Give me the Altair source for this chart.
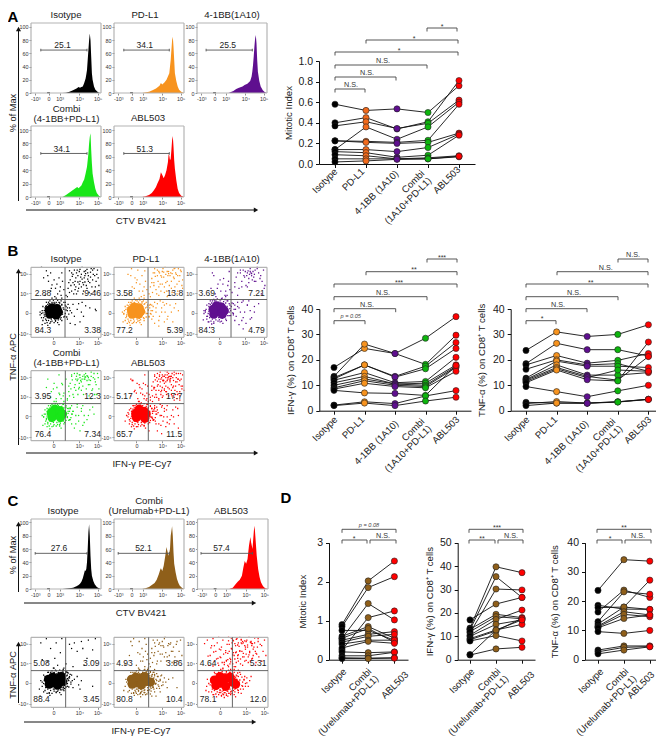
import altair as alt
import pandas as pd

W, H, M = 648, 729, 8
FONT = "Liberation Sans"
ONE = pd.DataFrame({"a": [1]})

# ---------- histogram readings (x % of gate box, % of max) ----------
H_ISO_A = [(45,0),(50,.5),(55,2),(60,4),(65,7),(68,9),(70,8),(72,9),(74,10),(76,15),(78,22),(79,28),(80,35),(81,50),(82,65),(83,80),(84,90),(85,80),(86,55),(87,30),(88,20),(90,10),(92,5),(95,2),(97,.5),(100,0)]
H_PDL_A = [(40,0),(50,2),(55,4),(60,7),(65,11),(67,15),(69,13),(72,16),(75,20),(77,25),(79,30),(80,40),(81,50),(82,65),(83,80),(84,85),(85,70),(86,50),(87,30),(89,18),(91,10),(93,5),(96,2),(100,0)]
H_BB_A = [(45,0),(52,3),(56,6),(60,8),(65,10),(68,12),(72,14),(76,18),(78,25),(79,32),(80,42),(81,55),(82,70),(83,82),(84,88),(85,75),(86,50),(87,32),(89,18),(91,10),(94,4),(97,1),(100,0)]
H_COM_A = [(45,0),(50,3),(54,6),(58,9),(62,12),(66,15),(68,13),(72,17),(74,22),(76,26),(78,35),(80,45),(81,55),(82,65),(83,80),(84,90),(85,95),(86,70),(87,50),(88,35),(90,22),(92,12),(94,6),(97,2),(100,0)]
H_ABL_A = [(40,0),(45,1),(50,3),(54,6),(57,10),(60,15),(62,20),(65,27),(67,37),(69,33),(71,28),(73,33),(75,40),(77,52),(78,64),(79,62),(80,55),(81,57),(82,70),(83,85),(84,91),(85,75),(86,55),(87,42),(89,25),(91,12),(93,6),(96,2),(100,0)]
H_ISO_C = [(45,0),(55,1),(60,2),(65,4),(68,6),(70,8),(72,11),(74,16),(76,24),(77,28),(78,27),(79,30),(80,40),(81,60),(82,85),(83,97),(84,80),(85,50),(86,30),(87,20),(89,12),(91,7),(94,3),(97,1),(100,0)]
H_COM_C = [(40,0),(45,1),(50,3),(54,6),(58,9),(61,14),(64,22),(66,29),(67,31),(69,27),(71,35),(73,48),(75,63),(76,58),(78,50),(80,60),(81,80),(83,94),(84,80),(85,55),(86,38),(88,25),(90,15),(92,9),(94,5),(97,2),(100,0)]
H_ABL_C = [(45,0),(50,2),(54,7),(57,11),(60,14),(63,20),(65,32),(67,42),(69,38),(71,45),(73,65),(75,78),(76,70),(78,60),(80,88),(81,95),(82,80),(84,50),(86,30),(88,18),(90,10),(93,4),(96,1),(100,0)]

# ---------- dot-plot readings ----------
CORE_B_ISO = [(32,37),(27,33),(37,41),(30,42),(36,32),(26,39),(39,36)]
DOTS_B_ISO = [(20,30),(19,38),(22,24),(28,22),(35,24),(42,26),(45,33),(47,40),(44,46),(40,50),(33,50),(26,48),(21,44),(17,35),(15,28),(48,30),(52,38),(50,44),(55,42),(58,35),(60,47),(52,26),(62,30),(49,50),(16,18),(13,32),(66,40),(72,36),(70,22),(75,30),(78,45),(84,42),(92,40),(93,38),(56,20),(63,18),(68,48),(73,50),(22,95),(28,92),(18,85),(25,80),(30,75),(35,70),(38,62),(40,85),(44,92),(34,58),(42,72),(20,60),(28,66),(15,100),(50,60),(53,70),(56,82),(58,66),(60,90),(62,75),(64,85),(66,96),(68,70),(70,80),(72,90),(74,62),(75,75),(76,85),(78,95),(80,70),(82,88),(84,78),(85,93),(86,62),(88,82),(90,98),(92,72),(94,90),(96,85),(65,62),(55,95),(60,78),(70,97),(80,97),(88,96),(73,83),(67,79),(63,68),(77,79),(81,83)]
CORE_B_PDL = [(31,37),(26,33),(36,42),(29,43),(35,33),(25,39),(38,37)]
DOTS_B_PDL = [(18,30),(17,40),(21,23),(28,21),(36,24),(43,27),(46,34),(47,43),(44,48),(40,51),(33,52),(25,49),(19,46),(14,33),(50,30),(53,38),(51,46),(56,44),(60,36),(62,48),(54,26),(65,30),(13,22),(68,42),(73,36),(72,22),(77,30),(80,46),(86,42),(92,38),(58,20),(64,16),(70,50),(75,48),(84,22),(20,90),(25,98),(30,85),(26,72),(32,78),(36,66),(39,58),(40,88),(44,95),(43,72),(22,62),(34,96),(50,62),(52,72),(54,84),(56,92),(58,98),(60,68),(62,88),(64,94),(66,76),(68,86),(70,98),(72,64),(74,90),(76,80),(78,94),(80,88),(82,70),(84,96),(86,84),(88,92),(90,76),(92,98),(94,88),(96,94),(98,82),(98,70),(64,60),(76,58),(90,62),(57,78),(71,93),(83,91),(87,99)]
CORE_B_BB = [(30,38),(24,33),(35,43),(28,45),(36,33),(23,40),(39,38)]
DOTS_B_BB = [(14,30),(12,38),(16,22),(24,20),(33,22),(42,24),(46,31),(48,38),(47,46),(43,52),(35,54),(25,52),(17,48),(10,34),(52,32),(55,40),(52,48),(58,44),(62,36),(64,50),(54,24),(66,28),(9,25),(18,14),(72,46),(76,38),(70,20),(78,28),(82,44),(60,18),(66,12),(74,52),(20,70),(26,62),(30,76),(34,66),(38,84),(40,60),(44,74),(22,92),(46,94),(50,64),(54,72),(56,86),(60,70),(62,92),(64,80),(66,96),(68,86),(70,74),(72,92),(74,84),(76,98),(78,88),(80,94),(82,90),(84,80),(86,100),(75,90),(73,95),(79,82),(83,96),(88,92),(71,88),(77,92),(81,86),(90,84),(96,70),(92,62),(58,60)]
CORE_B_COM = [(36,38),(30,33),(41,43),(34,45),(42,33),(29,40),(45,38)]
DOTS_B_COM = [(22,30),(21,38),(24,24),(32,21),(41,23),(48,26),(52,33),(53,42),(50,48),(46,52),(38,52),(28,50),(23,46),(18,34),(55,30),(58,38),(56,46),(60,42),(64,36),(66,48),(58,24),(68,28),(17,22),(72,42),(76,36),(74,22),(80,30),(84,44),(90,38),(62,18),(70,14),(74,50),(28,62),(32,74),(36,60),(40,68),(44,82),(22,76),(40,94),(46,64),(52,60),(54,70),(56,82),(58,94),(60,66),(62,76),(64,88),(66,96),(68,74),(70,90),(72,84),(74,92),(76,88),(78,96),(80,86),(82,90),(84,80),(86,92),(88,74),(90,96),(92,84),(94,66),(96,90),(66,86),(70,94),(73,88),(77,91),(80,93),(83,87),(69,82),(86,60),(50,88)]
CORE_B_ABL = [(38,37),(32,33),(43,42),(36,45),(44,32),(31,39),(46,38)]
DOTS_B_ABL = [(22,30),(20,40),(26,23),(34,20),(43,22),(51,26),(54,33),(55,42),(52,49),(47,52),(38,53),(28,50),(24,46),(18,36),(57,30),(60,38),(58,46),(62,44),(66,36),(68,48),(60,24),(70,28),(16,28),(72,42),(76,34),(74,20),(80,30),(84,44),(92,36),(62,14),(68,10),(76,50),(86,24),(92,18),(50,14),(24,64),(30,72),(34,60),(38,68),(42,82),(26,86),(44,94),(47,60),(52,62),(54,72),(56,84),(58,94),(60,66),(62,78),(64,88),(66,98),(68,72),(70,92),(72,82),(74,90),(76,86),(78,96),(80,88),(82,92),(84,76),(86,94),(88,66),(90,84),(92,96),(94,70),(96,88),(98,78),(66,84),(70,86),(73,94),(77,90),(80,84),(83,96),(69,62),(86,58),(90,60),(64,58),(58,76),(74,70),(82,66),(88,78),(94,58)]
CORE_C_ISO = [(32,35),(26,33),(38,41),(31,43),(38,32),(43,44),(25,40),(45,37)]
DOTS_C_ISO = [(16,30),(14,38),(18,22),(26,20),(36,22),(46,26),(52,34),(54,42),(52,50),(46,54),(36,52),(24,50),(18,46),(12,26),(57,36),(58,46),(62,40),(66,44),(60,28),(68,32),(13,16),(72,38),(14,92),(22,98),(28,84),(34,70),(36,92),(38,60),(42,78),(44,98),(24,66),(32,56),(55,90),(58,84),(62,92),(66,80),(72,94),(74,84),(82,96),(80,70),(88,82),(50,62),(60,58),(76,60),(92,98),(16,68),(88,30),(70,26)]
CORE_C_COM = [(32,35),(26,33),(38,41),(31,43),(39,32),(44,44),(25,40),(47,37),(52,36)]
DOTS_C_COM = [(16,30),(17,40),(20,22),(28,20),(38,20),(48,24),(56,28),(60,34),(62,44),(56,50),(48,54),(36,54),(24,50),(14,24),(64,30),(66,38),(68,46),(70,32),(72,42),(74,36),(76,28),(78,40),(66,22),(60,16),(16,62),(22,74),(26,88),(28,98),(32,60),(34,78),(36,94),(38,66),(40,84),(42,72),(44,58),(46,90),(24,94),(50,62),(52,70),(54,84),(56,96),(58,78),(62,66),(64,90),(66,76),(70,88),(72,98),(76,72),(80,90),(84,80),(86,64),(90,94),(44,98),(48,76),(84,42),(90,28)]
CORE_C_ABL = [(33,35),(26,31),(40,41),(32,44),(40,30),(46,43),(24,39),(50,36),(54,33)]
DOTS_C_ABL = [(13,30),(14,40),(16,22),(22,18),(34,16),(46,20),(58,24),(64,30),(66,40),(60,50),(52,54),(36,55),(24,50),(12,24),(68,34),(70,42),(72,30),(74,38),(76,44),(62,20),(16,60),(18,74),(20,88),(22,98),(24,66),(26,80),(28,92),(30,60),(32,72),(34,86),(36,96),(38,64),(40,78),(42,90),(44,58),(46,70),(48,84),(50,96),(50,62),(52,74),(54,88),(56,98),(58,66),(60,80),(62,92),(64,60),(66,72),(68,86),(70,96),(72,64),(74,80),(76,92),(78,70),(80,86),(82,60),(84,76),(86,94),(14,96),(30,100),(44,100),(60,100),(46,62),(49,92),(51,78),(54,58),(57,70),(43,68),(35,64)]
# the loose halo round each dense core, and the loose upper and right quadrants
HALO = [(22,33),(23,41),(24,28),(26,45),(29,26),(31,47),(34,26),(37,27),(39,29),(41,31),(42,35),(43,39),(42,43),(40,46),(37,47),(34,48),(21,37),(20,35),(24,47),(22,45),(25,24),(30,23),(35,23),(39,25),(43,28),(45,36),(46,42),(44,47),(41,49),(36,50),(30,50),(25,50),(20,42),(19,32),(18,28),(21,26),(23,21),(27,20),(33,21),(38,21),(44,24),(47,29),(49,34),(50,39),(49,46),(47,50),(43,52),(38,53),(32,53),(27,52),(22,50),(17,44),(16,38),(15,34),(17,24),(20,20),(13,36),(52,42),(53,47),(54,33),(56,38),(51,29),(24,17),(40,18),(30,56),(44,56)]
LOOSE = [(52,58),(55,64),(57,74),(59,87),(61,62),(63,80),(65,92),(67,66),(69,76),(71,86),(73,100),(75,66),(77,88),(79,74),(81,92),(83,64),(85,86),(87,72),(89,90),(91,66),(93,80),(95,96),(97,74),(69,94),(74,78),(78,91),(82,80),(67,88),(72,72),(58,92),(54,78),(62,96),(47,68),(45,80),(41,66),(37,76),(33,82),(29,70),(24,88),(43,60),(36,56),(86,98),(91,88),(76,94),(64,72),(56,30),(60,42),(64,24),(68,36),(72,46),(76,26),(82,36),(88,48),(54,46),(58,50),(66,52),(52,34)]

# ---------- paired-line readings (one row per donor) ----------
MI_A = [[.58,.52,.535,.50,.76],[.40,.45,.34,.41,.81],[.37,.41,.345,.395,.62],[.14,.36,.24,.36,.60],[.225,.22,.21,.23,.58],[.225,.21,.20,.21,.30],[.14,.14,.12,.16,.29],[.12,.11,.065,.085,.28],[.09,.08,.05,.06,.08],[.05,.05,.05,.05,.07],[.02,.03,.045,.05,.075]]
IFN_B = [[17,24.5,22.5,28.5,37],[13.5,26.2,22.5,18.2,29.7],[13,18,13.5,17.5,26.8],[12.5,18,13.2,16.5,24.5],[12,15,11,11.5,21],[11,13.5,10.5,10.8,18],[10,12.5,10.5,10,17.5],[9,11.8,10,9.5,17],[8.5,10.8,9.5,9,15.5],[8,7,6.8,6,17.8],[2.2,3.5,2.8,5.8,7.9],[2,3,2,3.8,5.3]]
TNF_B = [[23.7,31,29.2,30,33.8],[18.5,26.5,24,24,21.5],[18,21.7,18.7,19.8,22.5],[16.3,20,18,18.5,15.5],[12.8,19.5,17.5,17.5,17],[12.3,18,14,14,15],[12,17,13.5,12,21.3],[11.5,16.5,13,16,15.5],[11,16,12.2,11.7,27],[9.5,7.5,5.5,7.8,10],[3.3,3,3,3.5,4.5],[2.8,3.6,3,3.5,4.5],[2,3,2.9,3.4,4.4]]
MI_D = [[.9,2.02,2.53],[.85,1.85,2.13],[.55,1.44,1.02],[.25,1.08,1.25],[.75,.75,.5],[.6,.85,.55],[.55,.8,.45],[.5,.65,.72],[.45,.6,.65],[.4,.5,.5],[.3,.47,.42],[.2,.18,.2],[.1,.1,.19],[.05,.04,.05],[.03,.03,.04]]
IFN_D = [[13.5,39.7,37.2],[12.8,35.5,26.6],[11.5,30.2,29.8],[17,23.8,26.6],[13,19.4,18],[12,18.4,17.5],[10.5,17.2,21.2],[10,15.1,17],[9,12.7,15.1],[8.5,12.3,17.7],[8,10.3,8],[2,4.6,5.3],[2.2,12.7,17]]
TNF_D = [[23.7,34.2,33.7],[18.6,17.3,17.2],[17.8,18,17.2],[16.3,23.8,21.3],[13,23.2,22.4],[12.2,18,27.2],[11.5,16.4,15.3],[11.2,15.5,14.7],[10.9,14.1,15.3],[9.6,9,10],[3.3,4.7,4.7],[2.7,4.2,4.5],[2,3.3,4.4]]

BLACK, ORANGE, ORANGE2, PURPLE, GREEN, GREEN2, RED, BROWN = "#000000", "#f26a1b", "#f7931e", "#5f0f8f", "#0db50d", "#19e619", "#ff0000", "#8f5f1a"
layers = []


def shifted(pts, dx, dy=0):
    return [(a + dx, b + dy) for a, b in pts]


def txt(x, y, s, size=9.6, angle=0, bold=False, italic=False, color="#1a1a1a", align="center"):
    kw = {}
    if bold:
        kw["fontWeight"] = "bold"
    if italic:
        kw["fontStyle"] = "italic"
    layers.append(alt.Chart(ONE).mark_text(font=FONT, fontSize=size, angle=angle, align=align, baseline="middle", color=color, **kw)
                  .encode(x=alt.value(x - M), y=alt.value(y - M), text=alt.value(s)))


def rule(x1, y1, x2, y2, color="#333333", w=0.9):
    layers.append(alt.Chart(ONE).mark_rule(color=color, strokeWidth=w)
                  .encode(x=alt.value(x1 - M), x2=alt.value(x2 - M), y=alt.value(y1 - M), y2=alt.value(y2 - M)))


def arrow(x1, y1, x2, y2):
    rule(x1, y1, x2, y2, "#111111", 1)
    shape = "triangle-up" if x1 == x2 else "triangle-right"
    layers.append(alt.Chart(ONE).mark_point(shape=shape, filled=True, color="#111111", size=26, opacity=1)
                  .encode(x=alt.value(x2 - M), y=alt.value(y2 - M)))


def bracket(x1, x2, y, label, tx, ty=None, italic=False, leg=3.5):
    rule(x1, y, x2, y, "#444444", 0.9)
    rule(x1, y, x1, y + leg, "#444444", 0.9)
    rule(x2, y, x2, y + leg, "#444444", 0.9)
    if label.startswith("*"):
        txt(tx, y - 1.5 if ty is None else ty, label, size=7, color="#333333")
    elif italic:
        txt(tx, y - 4.5 if ty is None else ty, label, size=5.6, italic=True, color="#444444")
    else:
        txt(tx, y - 4 if ty is None else ty, label, size=7.2, color="#333333")


def facs_axes(box, ydom, xv, xl, yv, yl):
    x0, x1, y0, y1 = box
    expr_x = "+".join(f"(datum.value=={v}?'{l}':'')" for v, l in zip(xv, xl))
    expr_y = "+".join(f"(datum.value=={v}?'{l}':'')" for v, l in zip(yv, yl))
    ax = dict(labelFont=FONT, labelFontSize=5.4, labelColor="#333333", tickSize=2, tickColor="#444444", tickWidth=0.6,
              domain=False, grid=False, title=None, labelPadding=1, labelFlush=False, labelOverlap=False)
    sx = alt.Scale(domain=[0, 100], range=[x0 - M, x1 - M], nice=False, zero=False)
    sy = alt.Scale(domain=ydom, range=[y1 - M, y0 - M], nice=False, zero=False)
    axx = alt.Axis(orient="bottom", offset=-(H - (y1 - M)), values=xv, labelExpr=expr_x, **ax)
    axy = alt.Axis(orient="left", offset=-(x0 - M), values=yv, labelExpr=expr_y, **ax)
    return sx, sy, axx, axy


def segs_and_text(box, sx, sy, ydom, segs, texts):
    frame = [(0, 100, ydom[0], ydom[0]), (0, 100, ydom[1], ydom[1]), (0, 0, ydom[0], ydom[1]), (100, 100, ydom[0], ydom[1])]
    rows = [dict(x=a, x2=b, y=c, y2=d, c="#b4b4b4", w=1.2) for a, b, c, d in frame]
    rows += [dict(x=a, x2=b, y=c, y2=d, c="#555555", w=0.9) for a, b, c, d in segs]
    layers.append(alt.Chart(pd.DataFrame(rows)).mark_rule().encode(
        x=alt.X("x:Q", scale=sx, axis=None), x2="x2:Q", y=alt.Y("y:Q", scale=sy, axis=None), y2="y2:Q",
        color=alt.Color("c:N", scale=None), strokeWidth=alt.StrokeWidth("w:Q", scale=None)))
    tdf = pd.DataFrame(texts, columns=["x", "y", "t"])
    layers.append(alt.Chart(tdf).mark_text(font=FONT, fontSize=8.5, color="#222222", align="center", baseline="middle").encode(
        x=alt.X("x:Q", scale=sx, axis=None), y=alt.Y("y:Q", scale=sy, axis=None), text="t:N"))


def hist(box, pts, color, gate, val, ydom=(0, 106)):
    xv, xl = [6, 25, 41, 69, 95], ["-10³", "0", "10³", "10⁴", "10⁵"]
    yv, yl = [0, 20, 40, 60, 80, 100], ["0", "20", "40", "60", "80", "100"]
    sx, sy, axx, axy = facs_axes(box, list(ydom), xv, xl, yv, yl)
    df = pd.DataFrame(pts, columns=["x", "y"])
    layers.append(alt.Chart(df).mark_area(color=color, opacity=1).encode(
        x=alt.X("x:Q", scale=sx, axis=axx), y=alt.Y("y:Q", scale=sy, axis=axy)))
    a, b, gy, tx, ty = gate
    segs = [(a, b, gy, gy), (a, a, gy - 2, gy + 2), (b, b, gy - 2, gy + 2), (23, 27, 0.4, 0.4)]
    segs_and_text(box, sx, sy, list(ydom), segs, [(tx, ty, val)])


def dots(box, core, sparse, color, qx, qy, labels, lab_pos):
    xv, xl = [32, 69, 95], ["0", "10⁴", "10⁵"]
    yv, yl = [5, 35, 63, 91], ["-10⁴", "0", "10⁴", "10⁵"]
    sx, sy, axx, axy = facs_axes(box, [0, 100], xv, xl, yv, yl)
    cdf = pd.DataFrame(core, columns=["x", "y"])
    ddf = pd.DataFrame([p for p in sparse if 0 <= p[0] <= 100 and 0 <= p[1] <= 100], columns=["x", "y"])
    layers.append(alt.Chart(ddf).mark_square(color=color, size=1.6, opacity=1).encode(
        x=alt.X("x:Q", scale=sx, axis=axx), y=alt.Y("y:Q", scale=sy, axis=axy)))
    layers.append(alt.Chart(cdf).mark_circle(color=color, size=85, opacity=1).encode(
        x=alt.X("x:Q", scale=sx, axis=None), y=alt.Y("y:Q", scale=sy, axis=None)))
    segs = [(0, 100, qy, qy), (qx, qx, 0, 100)]
    tl, tr, bl, by, ty = lab_pos
    texts = [(tl, ty, labels[0]), (tr, ty, labels[1]), (tl, by, labels[2]), (tr, by, labels[3])]
    segs_and_text(box, sx, sy, [0, 100], segs, texts)


def paired(series, colors, xpos, spacing, xr, yr, ydom, yticks, title, tpad, cats, fmt=None, lpad=3):
    rows = []
    for sid, row in enumerate(series):
        for i, v in enumerate(row):
            rows.append(dict(sid=sid, cat=i, val=v, col=colors[i]))
    df = pd.DataFrame(rows)
    a, b = xr
    dom = [(a - xpos) / spacing, (b - xpos) / spacing]
    sx = alt.Scale(domain=dom, range=[a - M, b - M], nice=False, zero=False)
    sy = alt.Scale(domain=ydom, range=[yr[0] - M, yr[1] - M], nice=False, zero=False)
    axx = alt.Axis(orient="bottom", offset=-(H - (yr[0] - M)), values=list(range(len(colors))), labels=False,
                   tickSize=3.5, tickColor="#111111", domainColor="#111111", grid=False, title=None)
    axy_kw = dict(labelFont=FONT, labelFontSize=10.5, labelColor="#1a1a1a", tickSize=3.5, tickColor="#111111", domainColor="#111111",
                  grid=False, title=title, titleFont=FONT, titleFontSize=9.6, titleFontWeight="normal", titleColor="#1a1a1a",
                  titlePadding=tpad, labelPadding=lpad, labelFlush=False, labelOverlap=False, values=yticks)
    if fmt:
        axy_kw["format"] = fmt
    axy = alt.Axis(orient="left", offset=-(a - M), **axy_kw)
    layers.append(alt.Chart(df).mark_line(color="#111111", strokeWidth=0.9).encode(
        x=alt.X("cat:Q", scale=sx, axis=axx), y=alt.Y("val:Q", scale=sy, axis=axy), detail="sid:N"))
    layers.append(alt.Chart(df).mark_circle(stroke="#222222", strokeWidth=0.6, size=38, opacity=1).encode(
        x=alt.X("cat:Q", scale=sx, axis=None), y=alt.Y("val:Q", scale=sy, axis=None), fill=alt.Fill("col:N", scale=None)))
    for xe, ye, t in cats:
        txt(xe, ye, t, size=9.6, angle=315, align="right")


ARX, LABX = 18.5, 13

# ===== Panel A =====
txt(13, 17, "A", size=15, bold=True, color="#000000")
for (x, t) in zip((66, 145, 232), ("Isotype", "PD-L1", "4-1BB(1A10)")):
    txt(x, 15, t)
txt(66.5, 109, "Combi"); txt(66.5, 118.7, "(4-1BB+PD-L1)"); txt(148, 118, "ABL503")
hist((31, 101, 23, 93), H_ISO_A, BLACK, (14, 80, 65, 45, 72), "25.1")
hist((114, 184, 23, 93), H_PDL_A, ORANGE2, (14, 79, 65, 44, 72), "34.1")
hist((197, 267, 23, 93), H_BB_A, PURPLE, (13, 79, 65, 44, 72), "25.5")
hist((31, 101, 126, 197), H_COM_A, GREEN2, (14, 80, 65, 44, 72), "34.1")
hist((114, 184, 126, 197), H_ABL_A, RED, (14, 79, 65, 44, 72), "51.3")
arrow(ARX, 201, ARX, 29); arrow(26, 210, 256, 210)
txt(LABX, 113, "% of Max", size=9.2, angle=270)
txt(141, 221, "CTV BV421")

paired(MI_A, [BLACK, ORANGE, PURPLE, GREEN, RED], 335, 31, (319, 475), (164, 61), [0, 1], [0, .2, .4, .6, .8, 1], "Mitotic Index", 4,
       [(336, 170, "Isotype"), (363, 170, "PD-L1"), (397, 172, "4-1BB (1A10)"), (423, 172, "Combi"), (430, 179, "(1A10+PD-L1)"), (459, 168, "ABL503")], ".1f")
bracket(335, 365, 89, "N.S.", 351)
bracket(335, 396, 77, "N.S.", 367)
bracket(335, 427, 65, "N.S.", 383)
bracket(335, 458, 52, "*", 399)
bracket(366, 458, 40, "*", 414)
bracket(427, 457, 28, "*", 442)

# ===== Panel B =====
txt(13, 251, "B", size=15, bold=True, color="#000000")
for (x, t) in zip((66, 146, 232), ("Isotype", "PD-L1", "4-1BB(1A10)")):
    txt(x, 259.3, t)
txt(66.5, 352.7, "Combi"); txt(66.5, 362.7, "(4-1BB+PD-L1)"); txt(148, 362.7, "ABL503")
dots((31, 101, 267.3, 337.3), CORE_B_ISO, DOTS_B_ISO + HALO + LOOSE[:45], BLACK, 48.6, 54, ("2.88", "9.46", "84.3", "3.38"), (17, 88, 10, 10, 64))
dots((114, 184, 267.3, 337.3), CORE_B_PDL, DOTS_B_PDL + shifted(HALO, -1) + LOOSE, ORANGE2, 48.6, 54, ("3.58", "13.8", "77.2", "5.39"), (15, 87, 10, 10, 64))
dots((197, 267, 267.3, 337.3), CORE_B_BB, DOTS_B_BB + shifted(HALO, -3, 2) + LOOSE[20:], PURPLE, 48.6, 54, ("3.69", "7.21", "84.3", "4.79"), (14, 85, 10, 10, 64))
dots((31, 101, 370.7, 440.7), CORE_B_COM, DOTS_B_COM + shifted(HALO, 3) + LOOSE, GREEN2, 49, 53, ("3.95", "12.3", "76.4", "7.34"), (17, 88, 10, 10, 64))
dots((114, 184, 370.7, 440.7), CORE_B_ABL, DOTS_B_ABL + shifted(HALO, 5) + LOOSE + shifted(LOOSE, 3, -2), RED, 49, 53, ("5.17", "17.7", "65.7", "11.5"), (15, 86, 10, 10, 64))
arrow(ARX, 445, ARX, 271); arrow(26, 453, 256, 453)
txt(LABX, 357, "TNF-α APC", size=9.2, angle=270)
txt(142, 464, "IFN-γ PE-Cy7")

paired(IFN_B, [BLACK, ORANGE2, PURPLE, GREEN, RED], 334, 30.5, (319.3, 471), (410.7, 309), [0, 40], [0, 10, 20, 30, 40], "IFN-γ (%) on CD8⁺ T cells", 6,
       [(336, 418, "Isotype"), (363, 418, "PD-L1"), (397, 422, "4-1BB (1A10)"), (423, 420, "Combi"), (430, 427, "(1A10+PD-L1)"), (458, 418, "ABL503")])
bracket(334, 365, 320.7, "p = 0.05", 350.7, italic=True)
bracket(334, 395.7, 308.7, "N.S.", 367)
bracket(334, 427, 296.7, "N.S.", 383)
bracket(334, 457, 284, "***", 399)
bracket(366, 457, 271.7, "**", 414)
bracket(427, 457, 259, "***", 442)

paired(TNF_B, [BLACK, ORANGE2, PURPLE, GREEN, RED], 526, 30.6, (510.7, 655.5), (410.7, 309), [0, 40], [0, 10, 20, 30, 40], "TNF-α (%) on CD8⁺ T cells", 6,
       [(528, 418, "Isotype"), (556, 418, "PD-L1"), (587, 422, "4-1BB (1A10)"), (614, 420, "Combi"), (621, 427, "(1A10+PD-L1)"), (650, 418, "ABL503")])
bracket(526, 556, 320.7, "*", 542)
bracket(526, 587, 308.7, "N.S.", 558)
bracket(526, 618, 296.7, "N.S.", 574)
bracket(526, 648, 284, "**", 590.7)
bracket(557, 648, 271.7, "N.S.", 605.7)
bracket(618, 648, 259, "N.S.", 633)

# ===== Panel C =====
txt(13, 501, "C", size=15, bold=True, color="#000000")
txt(63, 511, "Isotype"); txt(149, 501, "Combi"); txt(149, 511, "(Urelumab+PD-L1)"); txt(231, 511, "ABL503")
hist((31, 101, 519, 589), H_ISO_C, BLACK, (6, 80, 53.5, 40, 61), "27.6", (0, 105))
hist((114, 184, 519, 589), H_COM_C, BROWN, (6, 79, 53.5, 42, 61), "52.1", (0, 105))
hist((197.5, 268, 519, 589), H_ABL_C, RED, (5, 78, 53.5, 34, 61), "57.4", (0, 105))
arrow(ARX, 592, ARX, 524); arrow(24, 603, 254, 603)
txt(LABX, 555, "% of Max", size=9.2, angle=270)
txt(141, 613, "CTV BV421")
dots((31, 101, 637.3, 707.3), CORE_C_ISO, DOTS_C_ISO + shifted(HALO, 3) + shifted(HALO, 9, 2)[:30], BLACK, 49.5, 52.4, ("5.08", "3.09", "88.4", "3.45"), (15, 86, 12, 12, 64))
dots((114, 184, 637.3, 707.3), CORE_C_COM, DOTS_C_COM + shifted(HALO, 5) + shifted(HALO, 14, -2) + LOOSE[:36], BROWN, 49.5, 52.4, ("4.93", "3.86", "80.8", "10.4"), (15, 86, 12, 12, 64))
dots((197.5, 268, 637.3, 707.3), CORE_C_ABL, DOTS_C_ABL + shifted(HALO, 3, -2) + shifted(HALO, 14, -3) + LOOSE[:45] + shifted(LOOSE[:45], -14, 3), RED, 49.5, 52.4, ("4.64", "5.31", "78.1", "12.0"), (15, 86, 12, 12, 64))
arrow(ARX, 703, ARX, 644); arrow(24, 722, 254, 722)
txt(LABX, 675, "TNF-α APC", size=9.2, angle=270)
txt(141, 731, "IFN-γ PE-Cy7")

# ===== Panel D =====
txt(286, 498, "D", size=15, bold=True, color="#000000")
paired(MI_D, [BLACK, BROWN, RED], 342, 26.2, (329, 408), (659.7, 542.7), [0, 3], [0, 1, 2, 3], "Mitotic Index", 9,
       [(345, 670, "Isotype"), (370, 670, "Combi"), (377, 677, "(Urelumab+PD-L1)"), (407, 673, "ABL503")])
bracket(342, 367, 540, "*", 354)
bracket(370, 396, 540, "N.S.", 383)
bracket(342, 396, 529.3, "p = 0.08", 369, italic=True)
paired(IFN_D, [BLACK, BROWN, RED], 470, 26, (457.7, 535), (659.7, 542.7), [0, 50], [0, 10, 20, 30, 40, 50], "IFN-γ (%) on CD8⁺ T cells", 5,
       [(473, 670, "Isotype"), (499, 670, "Combi"), (507, 677, "(Urelumab+PD-L1)"), (533, 673, "ABL503")])
bracket(469, 495, 540, "**", 482)
bracket(498, 523, 540, "N.S.", 511)
bracket(469, 523, 529.3, "***", 497)
paired(TNF_D, [BLACK, BROWN, RED], 598, 25.9, (585, 655.5), (659.7, 542.7), [0, 40], [0, 10, 20, 30, 40], "TNF-α (%) on CD8⁺ T cells", 7,
       [(602, 670, "Isotype"), (627, 670, "Combi"), (635, 677, "(Urelumab+PD-L1)"), (653, 673, "ABL503")])
bracket(597, 622, 540, "*", 610)
bracket(625, 651, 540, "N.S.", 638)
bracket(597, 651, 529.3, "**", 624)

chart = alt.layer(*layers).resolve_scale(x="independent", y="independent").properties(
    width=W, height=H, padding=0, autosize=alt.AutoSizeParams(type="none")
).configure_view(stroke=None)

chart.save("out.html", embed_options={"renderer": "svg", "actions": False})
